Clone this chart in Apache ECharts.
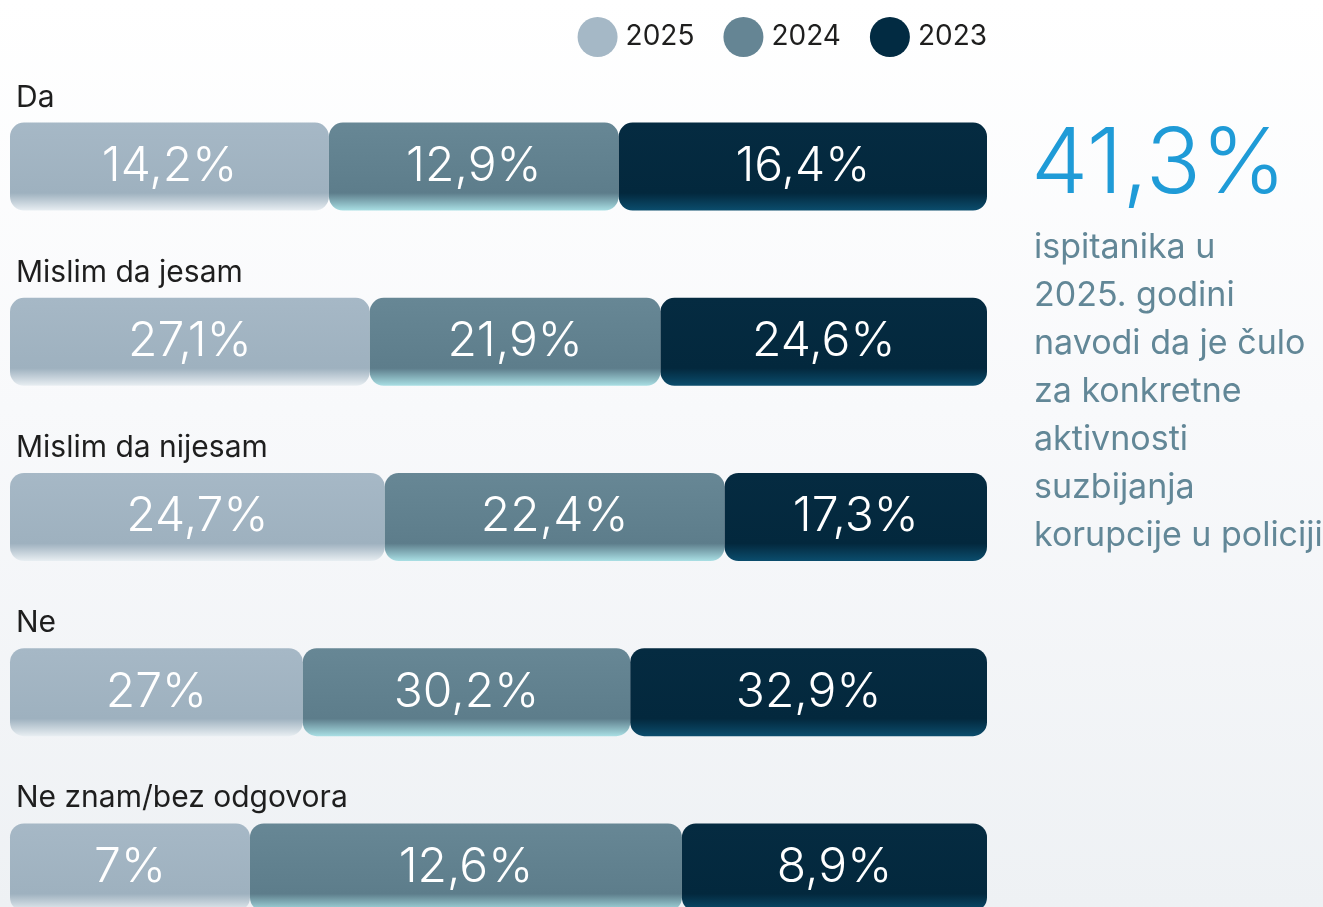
<!DOCTYPE html>
<html>
<head>
<meta charset="utf-8">
<script src="https://cdn.jsdelivr.net/npm/echarts@6/dist/echarts.min.js"></script>
<style>
  html, body {margin: 0; padding: 0;}
  body {background: linear-gradient(180deg, #ffffff 0%, #f8f9fb 45%, #eef1f4 100%);}
  #chart {width: 1323px; height: 907px;}
</style>
</head>
<body>
<div id="chart"></div>
<script>
const categories = ['Da', 'Mislim da jesam', 'Mislim da nijesam', 'Ne', 'Ne znam/bez odgovora'];
const years = ['2025', '2024', '2023'];
const v2025 = [14.2, 27.1, 24.7, 27, 7];
const v2024 = [12.9, 21.9, 22.4, 30.2, 12.6];
const v2023 = [16.4, 24.6, 17.3, 32.9, 8.9];
const highlight = '41,3%';
const noteLines = ['ispitanika u', '2025. godini', 'navodi da je čulo', 'za konkretne', 'aktivnosti', 'suzbijanja', 'korupcije u policiji'];

const font = 'Inter, "Noto Sans", sans-serif';
const rowTotals = categories.map((c, i) => v2025[i] + v2024[i] + v2023[i]);
// each row fills the whole width: share of the row total
const share = arr => arr.map((v, i) => ({value: v / rowTotals[i] * 100, raw: v}));
const fmt = v => String(v).replace('.', ',') + '%';

const grad = (top, mid, bottom) => ({
  type: 'linear', x: 0, y: 0, x2: 0, y2: 1,
  colorStops: [{offset: 0, color: top}, {offset: 0.8, color: mid}, {offset: 1, color: bottom}]
});
const styles = [
  {legend: '#a5b8c6', bar: grad('#a6b8c6', '#9eb1bf', '#e8eef2')},
  {legend: '#658594', bar: grad('#678795', '#5d7d8b', '#a9dfe4')},
  {legend: '#022b42', bar: grad('#052b41', '#03283d', '#0b4d6d')}
];

const mkSeries = (name, arr, idx) => ({
  name: name,
  type: 'bar',
  stack: 'row',
  barWidth: 88,
  barGap: '-100%',
  data: share(arr),
  itemStyle: {color: styles[idx].bar, borderRadius: 14},
  label: {
    show: true, position: 'inside', color: '#ffffff',
    fontFamily: font, fontSize: 48, fontWeight: 300,
    formatter: p => fmt(p.data.raw)
  }
});

const chart = echarts.init(document.getElementById('chart'));
chart.setOption({
  backgroundColor: 'transparent',
  animation: false,
  legend: {
    top: 17, right: 336, padding: 0,
    icon: 'circle', itemWidth: 40, itemHeight: 40, itemGap: 29,
    textStyle: {fontFamily: font, fontSize: 28, color: '#1e1e1e', padding: [0, 0, 0, 3]},
    data: years.map((y, i) => ({name: y, itemStyle: {color: styles[i].legend}}))
  },
  grid: {left: 10, top: 79, width: 977, height: 876, outerBoundsMode: 'none'},
  xAxis: {type: 'value', min: 0, max: 100, show: false},
  yAxis: {type: 'category', inverse: true, data: categories, show: false},
  series: [
    mkSeries(years[0], v2025, 0),
    mkSeries(years[1], v2024, 1),
    mkSeries(years[2], v2023, 2),
    {
      // row titles sit above each bar
      name: 'rows', type: 'bar', barWidth: 88, barGap: '-100%', silent: true, z: 1,
      data: categories.map(() => 100),
      itemStyle: {color: 'transparent'},
      label: {
        show: true, position: [6, -40], align: 'left', verticalAlign: 'top',
        fontFamily: font, fontSize: 30, color: '#1e1e1e',
        formatter: p => p.name
      }
    }
  ],
  graphic: [
    {type: 'text', left: 1031, top: 120,
     style: {text: highlight, fontFamily: font, fontSize: 91, fontWeight: 300, fill: '#1f9bd7'}},
    {type: 'text', left: 1034, top: 224,
     style: {text: noteLines.join('\n'), fontFamily: font, fontSize: 34, lineHeight: 48, fill: '#628797'}}
  ]
});
</script>
</body>
</html>
